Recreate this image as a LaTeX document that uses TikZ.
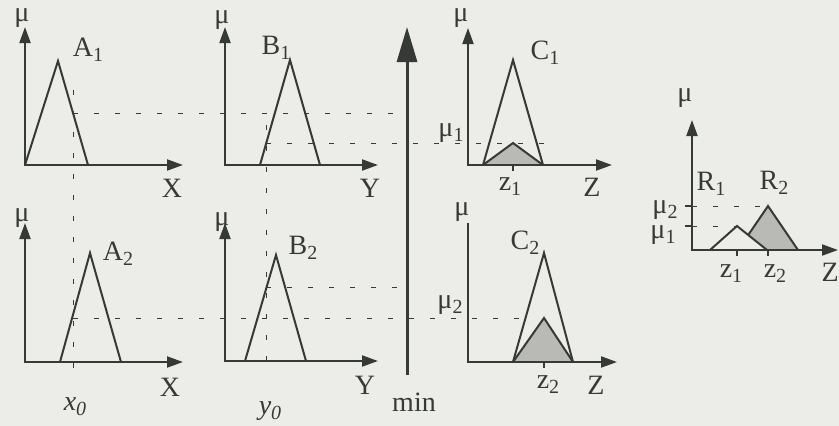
\documentclass[tikz,border=0pt]{standalone}
\usepackage{fontspec}
\setmainfont{Liberation Serif}
\usetikzlibrary{arrows.meta}
\definecolor{ink}{HTML}{363A36}
\definecolor{paper}{HTML}{ECEDE8}
\definecolor{shade}{HTML}{B9BAB6}
\newcommand{\sbs}[1]{\raisebox{-5pt}{\fontsize{20}{20}\selectfont #1}}

\begin{document}
\begin{tikzpicture}[x=1pt,y=-1pt,
  axes/.style={ink,line width=2pt,line join=miter,{Triangle[length=16pt,width=11pt]}-{Triangle[length=16pt,width=11pt]}},
  memb/.style={ink,line width=2pt,line join=miter},
  guide/.style={ink,line width=0.8pt,dash pattern=on 5pt off 16pt},
  tick/.style={ink,line width=2pt},
  lbl/.style={ink,font=\fontsize{28}{32}\selectfont,inner sep=0pt}]
  \fill[paper] (0,0) rectangle (839,426);
  \useasboundingbox (0,0) rectangle (839,426);
  % guide lines (x0, y0 and the cut levels)
  \draw[guide] (73,90) -- (73,372);
  \draw[guide] (266,125) -- (266,368);
  \draw[guide] (73,113) -- (398,113);
  \draw[guide] (266,143) -- (548,143);
  \draw[guide] (73,318) -- (525,318);
  \draw[guide] (266,287) -- (398,287);
  \draw[guide] (692,206) -- (768,206);
  \draw[guide] (692,226) -- (737,226);
  % rule 1
  \draw[memb] (25,165) -- (58,61) -- (88,165);
  \draw[axes] (25,27) -- (25,165) -- (183,165);
  \draw[memb] (260,165) -- (290,60) -- (320,165);
  \draw[axes] (225,27) -- (225,165) -- (378,165);
  \draw[memb] (483,165) -- (513,60) -- (543,165);
  \filldraw[memb,fill=shade] (483,165) -- (513,143) -- (543,165);
  \draw[axes] (468,28) -- (468,165) -- (612,165);
  \draw[tick] (513,165) -- (513,171);
  % rule 2
  \draw[memb] (60,362) -- (90,253) -- (121,362);
  \draw[axes] (25,223) -- (25,362) -- (183,362);
  \draw[memb] (245,361) -- (276,255) -- (306,361);
  \draw[axes] (225,223) -- (225,361) -- (378,361);
  \draw[memb] (513,362) -- (544,253) -- (573,362);
  \filldraw[memb,fill=shade] (513,362) -- (544,318) -- (573,362);
  \draw[ink,line width=2pt,line join=miter,-{Triangle[length=16pt,width=11pt]}] (468,223) -- (468,362) -- (617,362);
  \draw[tick] (544,362) -- (544,368);
  % min operator
  \draw[ink,line width=3pt,-{Triangle[length=35pt,width=20pt]}] (407,375) -- (407,27);
  % result
  \filldraw[memb,fill=shade] (738,250) -- (768,206) -- (798,250);
  \filldraw[memb,fill=paper] (710,250) -- (737,226) -- (767,250);
  \draw[axes] (692,120) -- (692,250) -- (838,250);
  \draw[tick] (685,206) -- (692,206);
  \draw[tick] (685,226) -- (692,226);
  \draw[tick] (737,250) -- (737,256);
  \draw[tick] (768,250) -- (768,256);
  % labels
  \node[lbl] (muA1) at (22,18) {μ};
  \node[lbl] (A1) at (88,50) {A\sbs{1}};
  \node[lbl] (X1) at (172,188) {X};
  \node[lbl] (muB1) at (222,20) {μ};
  \node[lbl] (B1) at (276,48) {B\sbs{1}};
  \node[lbl] (Y1) at (370,188) {Y};
  \node[lbl] (muC1) at (461,18) {μ};
  \node[lbl] (C1) at (545,53) {C\sbs{1}};
  \node[lbl] (mu1) at (451,133) {μ\sbs{1}};
  \node[lbl] (z1) at (510,187) {z\sbs{1}};
  \node[lbl] (Z1) at (592,187) {Z};
  \node[lbl] (muA2) at (22,218) {μ};
  \node[lbl] (A2) at (118,254) {A\sbs{2}};
  \node[lbl] (X2) at (170,387) {X};
  \node[lbl] (x0) at (75,407) {\textit{x}\sbs{\textit{0}}};
  \node[lbl] (muB2) at (222,222) {μ};
  \node[lbl] (B2) at (303,248) {B\sbs{2}};
  \node[lbl] (Y2) at (365,385) {Y};
  \node[lbl] (y0) at (270,411) {\textit{y}\sbs{\textit{0}}};
  \node[lbl] (min) at (414,402) {min};
  \node[lbl] (muC2) at (462,212) {μ};
  \node[lbl] (C2) at (525,243) {C\sbs{2}};
  \node[lbl] (mu2) at (450,305) {μ\sbs{2}};
  \node[lbl] (z2) at (548,385) {z\sbs{2}};
  \node[lbl] (Z2) at (596,385) {Z};
  \node[lbl] (muR) at (685,98) {μ};
  \node[lbl] (R1) at (711,184) {R\sbs{1}};
  \node[lbl] (R2) at (774,183) {R\sbs{2}};
  \node[lbl] (muR2) at (665,210) {μ\sbs{2}};
  \node[lbl] (muR1) at (663,235) {μ\sbs{1}};
  \node[lbl] (zR1) at (731,274) {z\sbs{1}};
  \node[lbl] (zR2) at (775,274) {z\sbs{2}};
  \node[lbl,anchor=east] (ZR) at (839,272) {Z};
\end{tikzpicture}
\end{document}
